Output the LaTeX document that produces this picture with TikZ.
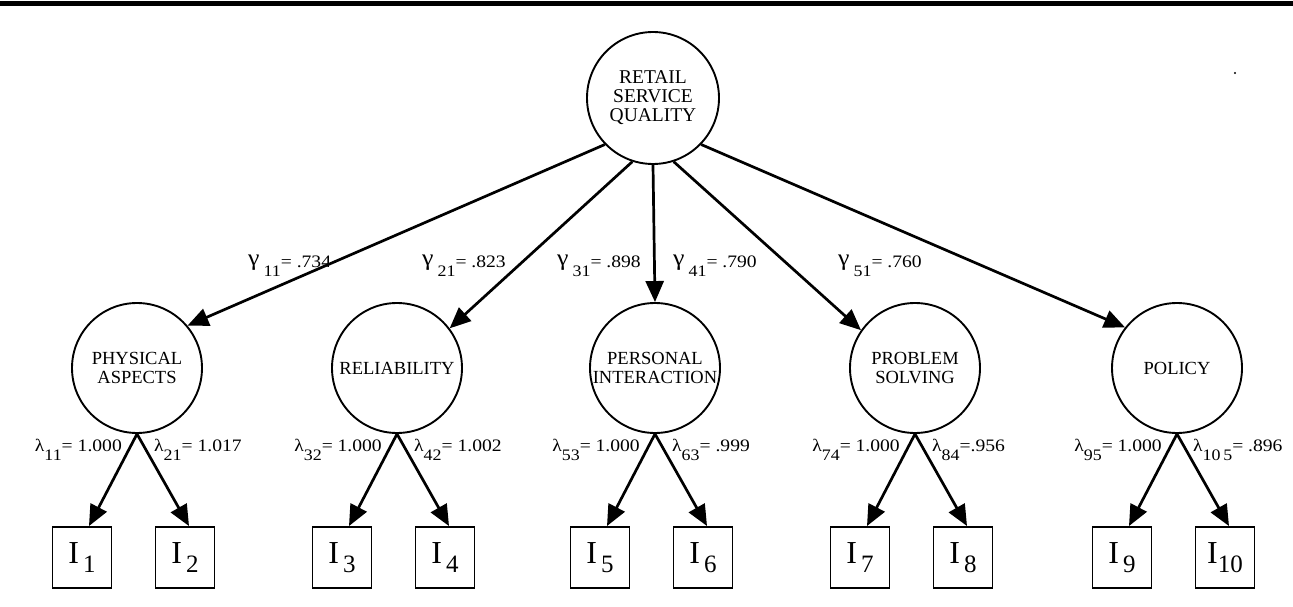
\documentclass[tikz,border=0pt]{standalone}
\usepackage{fontspec}
\setmainfont{Liberation Serif}
\newfontfamily\lblfont{Liberation Serif}[FakeStretch=1.12]
\usetikzlibrary{arrows.meta,calc}

% lowered index for coefficient labels
\newcommand\csub[1]{\raisebox{-9pt}{\fontsize{16}{16}\selectfont #1}}
% enlarged gamma glyph, as in the printed coefficients
\newcommand\bgam{\raisebox{1.5pt}{\fontsize{23}{23}\selectfont γ}}
% lowered index for indicator boxes
\newcommand\isub[1]{\raisebox{-9pt}{\fontsize{25}{25}\selectfont #1}}

\begin{document}
\begin{tikzpicture}[x=1pt,y=-1pt,
  latent/.style={circle, draw, line width=1.9pt, minimum size=130pt, inner sep=0pt,
                 align=center, font=\fontsize{18.5}{18.5}\selectfont},
  indicator/.style={rectangle, draw, line width=1.9pt, minimum width=59pt,
                    minimum height=61pt, inner sep=0pt, font=\fontsize{32}{32}\selectfont},
  load/.style={line width=2.7pt, -{Triangle[length=21pt,width=18pt]}},
  coef/.style={inner sep=0pt, font=\lblfont\fontsize{17.5}{17.5}\selectfont},
]
\useasboundingbox (0,0) rectangle (1293,607);

% heading rule
\fill (0,1.5) rectangle (1293,6);
\fill (1235,73) circle (1.2pt);

% second-order factor
\node[latent, minimum size=132pt, font=\fontsize{19.5}{19}\selectfont] (rsq) at (653,98)
  {RETAIL\\SERVICE\\QUALITY};

% first-order factors
\node[latent] (pa)  at (137,368)  {PHYSICAL\\ASPECTS};
\node[latent] (rel) at (397,368)  {RELIABILITY};
\node[latent] (pi)  at (655,368)  {PERSONAL\\INTERACTION};
\node[latent] (ps)  at (915,368)  {PROBLEM\\SOLVING};
\node[latent] (pol) at (1177,368) {POLICY};

% indicators
\node[indicator] (i1)  at (82,557.5)   {I\kern4pt\isub{1}};
\node[indicator] (i2)  at (185,557.5)  {I\kern4pt\isub{2}};
\node[indicator] (i3)  at (342,557.5)  {I\kern4pt\isub{3}};
\node[indicator] (i4)  at (445,557.5)  {I\kern4pt\isub{4}};
\node[indicator] (i5)  at (600,557.5)  {I\kern4pt\isub{5}};
\node[indicator] (i6)  at (703,557.5)  {I\kern4pt\isub{6}};
\node[indicator] (i7)  at (860,557.5)  {I\kern4pt\isub{7}};
\node[indicator] (i8)  at (963,557.5)  {I\kern4pt\isub{8}};
\node[indicator] (i9)  at (1122,557.5) {I\kern4pt\isub{9}};
\node[indicator] (i10) at (1225,557.5) {I\isub{10}};

% structural paths
\draw[load] (rsq.224) -- (pa.40);
\draw[load] (rsq.252) -- (rel.37);
\draw[load] (rsq.270) -- (pi.north);
\draw[load] (rsq.288) -- (ps.145);
\draw[load] (rsq.316) -- (pol.142);

% measurement paths
\foreach \f/\a/\b in {pa/i1/i2, rel/i3/i4, pi/i5/i6, ps/i7/i8, pol/i9/i10}{
  \draw[load] (\f.south) -- ($(\a.north)+(7,0)$);
  \draw[load] (\f.south) -- ($(\b.north)+(4,0)$);
}

% gamma coefficients
\node[coef, anchor=base west] (g1) at (248,267) {\bgam\kern4pt\csub{11}= .734};
\node[coef, anchor=base west] (g2) at (422,267) {\bgam\kern4pt\csub{21}= .823};
\node[coef, anchor=base west] (g3) at (557,267) {\bgam\kern4pt\csub{31}= .898};
\node[coef, anchor=base west] (g4) at (673,267) {\bgam\kern4pt\csub{41}= .790};
\node[coef, anchor=base west] (g5) at (838,267) {\bgam\kern4pt\csub{51}= .760};

% lambda coefficients
\node[coef, anchor=base east] (l1)  at (122,451)  {λ\csub{11}= 1.000};
\node[coef, anchor=base west] (l2)  at (154,451)  {λ\csub{21}= 1.017};
\node[coef, anchor=base east] (l3)  at (382,451)  {λ\csub{32}= 1.000};
\node[coef, anchor=base west] (l4)  at (414,451)  {λ\csub{42}= 1.002};
\node[coef, anchor=base east] (l5)  at (640,451)  {λ\csub{53}= 1.000};
\node[coef, anchor=base west] (l6)  at (672,451)  {λ\csub{63}= .999};
\node[coef, anchor=base east] (l7)  at (900,451)  {λ\csub{74}= 1.000};
\node[coef, anchor=base west] (l8)  at (932,451)  {λ\csub{84}=.956};
\node[coef, anchor=base east] (l9)  at (1162,451) {λ\csub{95}= 1.000};
\node[coef, anchor=base west] (l10) at (1193,451) {λ\csub{10\,5}= .896};
\end{tikzpicture}
\end{document}
